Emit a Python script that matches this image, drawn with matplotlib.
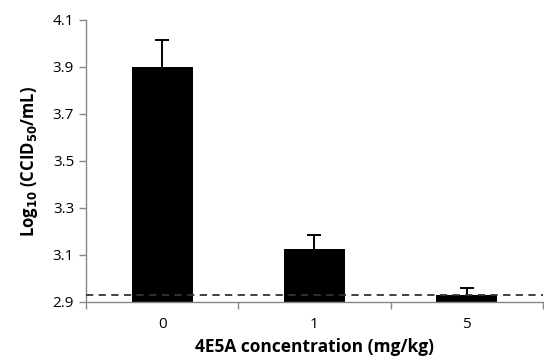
import matplotlib.pyplot as plt
import numpy as np

# data
doses = ["0", "1", "5"]
log_titer = [3.90, 3.125, 2.93]
err_up = [0.115, 0.058, 0.03]
detection_limit = 2.93

plt.rcParams['font.family'] = ['Open Sans', 'DejaVu Sans']

fig = plt.figure(figsize=(5.44, 3.62), dpi=100)
ax = fig.add_axes([0.158, 0.166, 0.84, 0.779])

x = np.arange(len(doses))
ax.bar(x, log_titer, width=0.4, color="black", zorder=2)
eb = ax.errorbar(x, log_titer, yerr=[np.zeros(len(x)), err_up], fmt="none",
                 ecolor="black", elinewidth=1.4, capsize=5, capthick=1.4, zorder=1)
eb[1][0].set_visible(False)  # no lower cap
ax.axhline(detection_limit, color="#333333", linestyle=(0, (4, 3)), linewidth=1.3, zorder=4)

ax.set_xlim(-0.5, 2.5)
ax.set_ylim(2.9, 4.1)
yt = np.arange(2.9, 4.11, 0.2)
ax.set_yticks(yt)
ax.set_yticklabels(["%.1f" % v for v in yt])

# ticks between categories, labels centred
ax.set_xticks([-0.5, 0.5, 1.5, 2.5])
ax.set_xticklabels([])
ax.set_xticks(x, minor=True)
ax.set_xticklabels(doses, minor=True)
ax.tick_params(axis="x", which="minor", length=0, pad=11, labelsize=11)
ax.tick_params(axis="x", which="major", length=5, color="#888888", width=1)
ax.tick_params(axis="y", length=5, color="#888888", width=1, labelsize=11)

for s in ["top", "right"]:
    ax.spines[s].set_visible(False)
for s in ["left", "bottom"]:
    ax.spines[s].set_color("#888888")
    ax.spines[s].set_linewidth(1)

ax.set_xlabel("4E5A concentration (mg/kg)", fontsize=12.5, fontweight="bold", labelpad=4)
ax.set_ylabel("Log$_{\\mathbf{10}}$ (CCID$_{\\mathbf{50}}$/mL)", fontsize=12, fontweight="bold", labelpad=9)

plt.savefig("out.png", dpi=100)
